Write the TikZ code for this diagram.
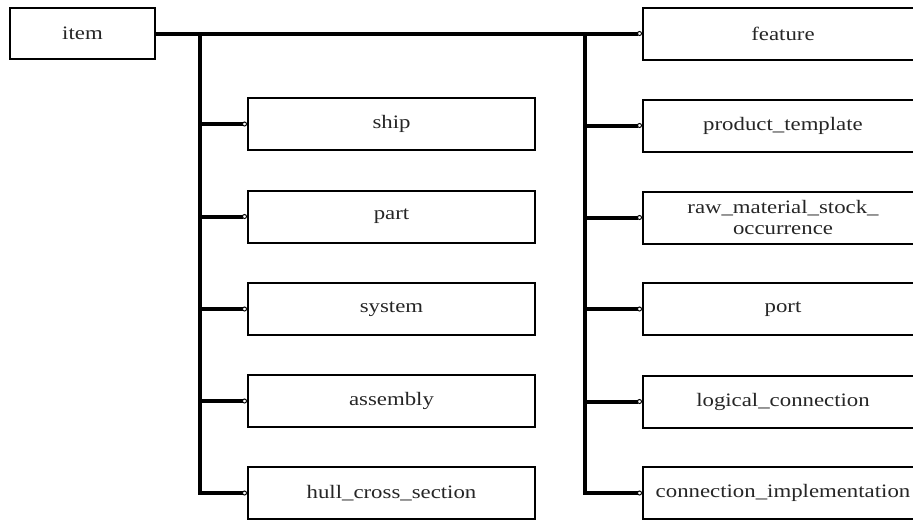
\documentclass[tikz,border=0pt]{standalone}
\usepackage{fontspec}
\setmainfont[FakeStretch=1.2]{Liberation Serif}
\usetikzlibrary{arrows.meta}
\tikzset{
  box/.style={draw=black, line width=2pt, fill=white, inner sep=0pt, minimum height=52pt,
    font=\fontsize{19pt}{21pt}\selectfont, text=black!85, align=center},
  lbox/.style={box, minimum width=287pt},
  rbox/.style={box, minimum width=280pt},
  bus/.style={line width=4pt, line cap=butt},
  link/.style={bus, -{Circle[open, length=5pt, width=5pt, line width=1pt, fill=white]}},
}
\begin{document}
\begin{tikzpicture}[x=1pt, y=-1pt]
\clip (0,0) rectangle (913,520);
\fill[white] (0,0) rectangle (913,520);
% nodes
\node[box, minimum width=145pt, minimum height=51pt] (item) at (82.5,33.5) {item};
\node[lbox] (ship) at (391.5,124) {ship};
\node[lbox] (part) at (391.5,216.5) {part};
\node[lbox] (system) at (391.5,309) {system};
\node[lbox] (assembly) at (391.5,401) {assembly};
\node[lbox] (hull) at (391.5,493) {hull\_cross\_section};
\node[rbox] (feature) at (783,33.5) {feature};
\node[rbox] (product) at (783,125.5) {product\_template};
\node[rbox] (raw) at (783,217.5) {raw\_material\_stock\_\\occurrence};
\node[rbox] (port) at (783,309) {port};
\node[rbox] (logical) at (783,401.5) {logical\_connection};
\node[rbox] (conn) at (783,493) {connection\_implementation};
% junctions
\coordinate (jL) at (200,33.5);
\coordinate (jR) at (585,33.5);
% connectors
\draw[link] (item.east) -- (feature.west);
\draw[link] (jL) |- (hull.west);
\draw[link] (ship.west -| jL) -- (ship.west);
\draw[link] (part.west -| jL) -- (part.west);
\draw[link] (system.west -| jL) -- (system.west);
\draw[link] (assembly.west -| jL) -- (assembly.west);
\draw[link] (jR) |- (conn.west);
\draw[link] (product.west -| jR) -- (product.west);
\draw[link] (raw.west -| jR) -- (raw.west);
\draw[link] (port.west -| jR) -- (port.west);
\draw[link] (logical.west -| jR) -- (logical.west);
\end{tikzpicture}
\end{document}
